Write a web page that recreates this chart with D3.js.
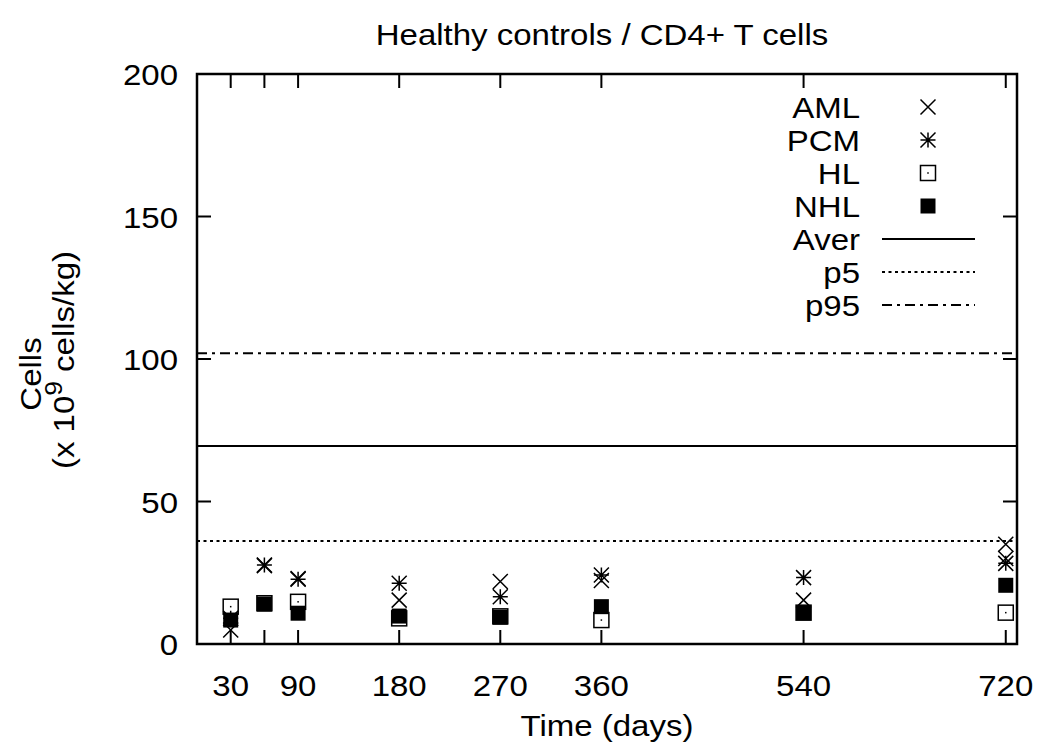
<!DOCTYPE html>
<html>
<head>
<meta charset="utf-8">
<script src="https://cdn.jsdelivr.net/npm/d3@7"></script>
<style>
html,body{margin:0;padding:0;background:#fff;}
svg{display:block;font-family:"Liberation Sans",Arial,sans-serif;}
</style>
</head>
<body>
<svg id="chart" width="1039" height="747"></svg>
<script>
// ---- data ----
const title = "Healthy controls / CD4+ T cells";
const xLabel = "Time (days)";
const xTickValues = [30, 60, 90, 180, 270, 360, 540, 720];
const xTickLabels = ["30", "", "90", "180", "270", "360", "540", "720"];
const yTickValues = [0, 50, 100, 150, 200];
// [time, value]
const amlData = [[30,4.9],[60,27.5],[90,23.0],[180,15.4],[270,21.9],[360,22.3],[540,15.4],[720,35.0],[720,30.0]];
const pcmData = [[30,9.0],[60,27.7],[90,22.7],[180,21.3],[270,16.6],[360,24.2],[540,23.3],[720,28.3]];
const hlData  = [[30,13.1],[60,14.3],[90,14.8],[180,9.0],[270,9.7],[360,8.4],[540,11.0],[720,11.0]];
const nhlData = [[30,8.4],[60,14.0],[90,10.8],[180,9.8],[270,9.4],[360,13.1],[540,11.0],[720,20.6]];
const averValue = 69.5;
const p5Value = 36.1;
const p95Value = 102.0;
const legendLabels = ["AML","PCM","HL","NHL","Aver","p5","p95"];

// ---- layout ----
const svg = d3.select("#chart");
const L = 197, R = 1017, T = 74, B = 644;
const x = d3.scaleLinear().domain([0, 730]).range([L, R]);
const y = d3.scaleLinear().domain([0, 200]).range([B, T]);
const FS = 30;
const SX = 1.1; // horizontal stretch to mimic the wide original font
const S = 7.5; // marker half-size

function addText(parent, tx, ty, anchor, str, rot) {
  const g = parent.append("g")
    .attr("transform", `translate(${tx},${ty})${rot ? " rotate(" + rot + ")" : ""} scale(${SX},1)`);
  const t = g.append("text").attr("text-anchor", anchor).attr("font-size", FS);
  if (str !== null) t.text(str);
  return t;
}

// marker path generators (relative to center)
const pathX = `M${-S},${-S}L${S},${S}M${-S},${S}L${S},${-S}`;
const pathAst = pathX + `M0,${-S}L0,${S}M${-S},0L${S},0`;

function drawMarker(g, type, cx, cy) {
  const m = g.append("g").attr("transform", `translate(${cx},${cy})`);
  if (type === "x" || type === "ast") {
    m.append("path").attr("d", type === "x" ? pathX : pathAst)
      .attr("stroke", "#000").attr("stroke-width", 1.5).attr("fill", "none");
  } else if (type === "open") {
    m.append("rect").attr("x", -S).attr("y", -S).attr("width", 2*S).attr("height", 2*S)
      .attr("fill", "none").attr("stroke", "#000").attr("stroke-width", 1.5);
    m.append("rect").attr("x", -0.75).attr("y", -0.75).attr("width", 1.5).attr("height", 1.5).attr("fill", "#000");
  } else if (type === "filled") {
    m.append("rect").attr("x", -S).attr("y", -S).attr("width", 2*S).attr("height", 2*S)
      .attr("fill", "#000");
  }
}

// ---- title ----
addText(svg, (L + R) / 2 - 5, 45, "middle", title);

// ---- axes ticks ----
const gAx = svg.append("g");
const tickLen = 14;
yTickValues.forEach(v => {
  gAx.append("line").attr("x1", L).attr("x2", L + tickLen).attr("y1", y(v)).attr("y2", y(v))
    .attr("stroke", "#000").attr("stroke-width", 2);
  gAx.append("line").attr("x1", R).attr("x2", R - tickLen).attr("y1", y(v)).attr("y2", y(v))
    .attr("stroke", "#000").attr("stroke-width", 2);
  addText(gAx, L - 19, y(v) + 11, "end", String(v));
});
xTickValues.forEach((v, i) => {
  gAx.append("line").attr("x1", x(v)).attr("x2", x(v)).attr("y1", B).attr("y2", B - tickLen)
    .attr("stroke", "#000").attr("stroke-width", 2);
  gAx.append("line").attr("x1", x(v)).attr("x2", x(v)).attr("y1", T).attr("y2", T + tickLen)
    .attr("stroke", "#000").attr("stroke-width", 2);
  if (xTickLabels[i]) addText(gAx, x(v), B + 52, "middle", xTickLabels[i]);
});

// x label
addText(svg, (L + R) / 2, 736, "middle", xLabel);

// y label (two lines)
addText(svg, 41, 374, "middle", "Cells", -90);
const yl2 = addText(svg, 74, 360, "middle", null, -90);
yl2.append("tspan").text("(x 10");
yl2.append("tspan").attr("dy", -12).attr("font-size", 24).text("9");
yl2.append("tspan").attr("dy", 12).text(" cells/kg)");

// ---- data points ----
const gPts = svg.append("g");
amlData.forEach(d => drawMarker(gPts, "x", x(d[0]), y(d[1])));
pcmData.forEach(d => drawMarker(gPts, "ast", x(d[0]), y(d[1])));
hlData.forEach(d => drawMarker(gPts, "open", x(d[0]), y(d[1])));
nhlData.forEach(d => drawMarker(gPts, "filled", x(d[0]), y(d[1])));

// ---- reference lines ----
const lineStyles = [
  { v: averValue, dash: null },
  { v: p5Value, dash: "3,3.5" },
  { v: p95Value, dash: "10,5,3,5" }
];
lineStyles.forEach(s => {
  svg.append("line").attr("x1", L).attr("x2", R).attr("y1", y(s.v)).attr("y2", y(s.v))
    .attr("stroke", "#000").attr("stroke-width", 2)
    .attr("stroke-dasharray", s.dash);
});

// ---- legend ----
const gLeg = svg.append("g");
const legX = 860, legY0 = 107, legDy = 33;
const legMarkers = ["x","ast","open","filled"];
legendLabels.forEach((lab, i) => {
  const cy = legY0 + i * legDy;
  addText(gLeg, legX, cy + 11, "end", lab);
  if (i < 4) {
    drawMarker(gLeg, legMarkers[i], 928, cy);
  } else {
    const st = lineStyles[i - 4];
    gLeg.append("line").attr("x1", 882).attr("x2", 975).attr("y1", cy).attr("y2", cy)
      .attr("stroke", "#000").attr("stroke-width", 2).attr("stroke-dasharray", st.dash);
  }
});

// ---- border ----
svg.append("rect").attr("x", L).attr("y", T).attr("width", R - L).attr("height", B - T)
  .attr("fill", "none").attr("stroke", "#000").attr("stroke-width", 2.5);
</script>
</body>
</html>
